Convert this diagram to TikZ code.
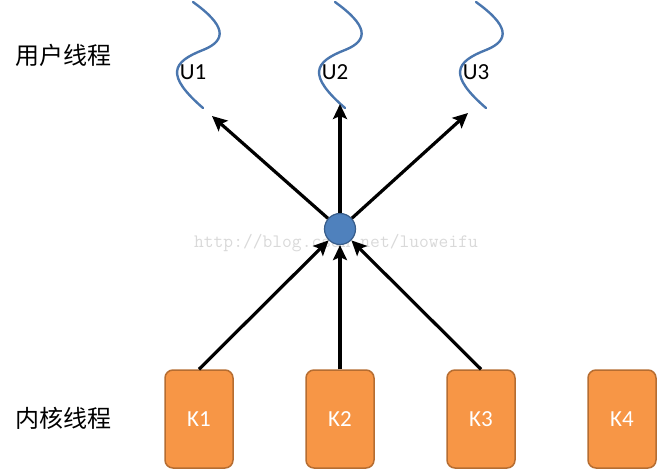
\documentclass[tikz,border=0pt]{standalone}
\usepackage{fontspec}
\setmainfont{Carlito}
\newfontfamily\cjk{Noto Sans CJK SC}
\usetikzlibrary{arrows.meta}
\definecolor{kfill}{HTML}{F79646}
\definecolor{kdraw}{HTML}{B66D31}
\definecolor{cfill}{HTML}{4F81BD}
\definecolor{cdraw}{HTML}{385D8A}
\definecolor{wave}{HTML}{4A76AE}
\begin{document}
\begin{tikzpicture}[x=1pt,y=-1pt,
  kbox/.style={draw=kdraw,line width=1.5pt,fill=kfill,rounded corners=8pt,minimum width=68pt,minimum height=98pt,inner sep=0pt,text=white,font=\fontsize{23}{23}\selectfont},
  hub/.style={circle,draw=cdraw,line width=1.2pt,fill=cfill,minimum size=31pt,inner sep=0pt},
  arr/.style={line width=3.2pt,-{Stealth[length=15pt,width=14pt,inset=3pt]}},
  wavy/.style={draw=wave,line width=2.4pt},
  ulab/.style={font=\fontsize{23}{23}\selectfont},
  side/.style={font=\cjk\fontsize{24}{24}\selectfont}]
\useasboundingbox (0,0) rectangle (657,469);
% watermark
\node[font=\ttfamily\fontsize{19}{19}\selectfont,text=black!15,inner sep=0pt] (wm) at (336,243) {http://blog.csdn.net/luoweifu};
% side labels
\node[side] (lu) at (64,55) {用户线程};
\node[side] (lk) at (64,418) {内核线程};
% kernel threads
\node[kbox] (k1) at (199,419) {K1};
\node[kbox] (k2) at (340,419) {K2};
\node[kbox] (k3) at (481,419) {K3};
\node[kbox] (k4) at (622,419) {K4};
% hub
\node[hub] (c) at (340,229) {};
% user threads waves
\foreach \i/\dx in {1/0,2/142,3/283}{
  \begin{scope}[xshift=\dx]
  \draw[wavy,line cap=round] (193,2) .. controls (225,25) and (228,40) .. (203,50) .. controls (172,62) and (165,75) .. (203,108);
  \node[ulab] (u\i) at (193,72) {U\i};
  \end{scope}
}
\coordinate (t1) at (212,116);
\coordinate (t2) at (340,104);
\coordinate (t3) at (468,113);
% arrows
\draw[arr] (k1.north) -- (c);
\draw[arr] (k2.north) -- (c);
\draw[arr] (k3.north) -- (c);
\draw[arr] (c) -- (t1);
\draw[arr] (c) -- (t2);
\draw[arr] (c) -- (t3);
\end{tikzpicture}
\end{document}
